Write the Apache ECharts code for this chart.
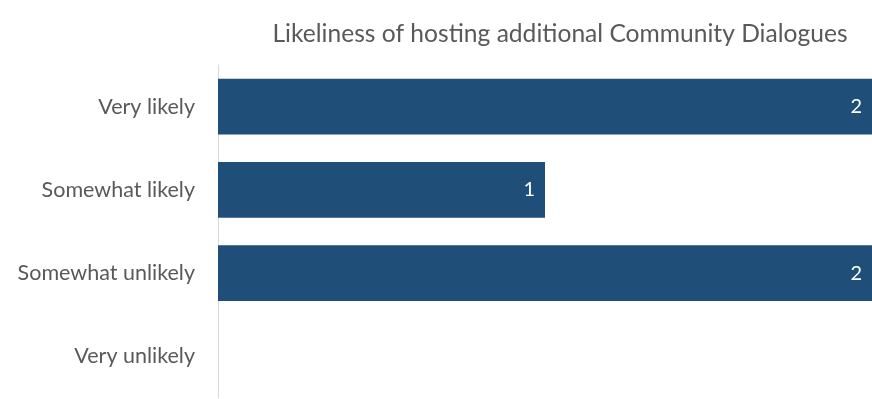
<!DOCTYPE html>
<html>
<head>
<meta charset="utf-8">
<script src="https://cdn.jsdelivr.net/npm/echarts@6/dist/echarts.min.js"></script>
<style>
  html, body { margin: 0; padding: 0; background: #ffffff; }
  #chart { width: 872px; height: 399px; }
</style>
</head>
<body>
<div id="chart"></div>
<script>
// Survey responses: how likely respondents are to host more Community Dialogues
const chartTitle = 'Likeliness of hosting additional Community Dialogues';
const categories = ['Very likely', 'Somewhat likely', 'Somewhat unlikely', 'Very unlikely'];
const responseCounts = [2, 1, 2, 0];

const textFont = 'Lato, "Open Sans", sans-serif';
const chart = echarts.init(document.getElementById('chart'), null, { renderer: 'canvas' });

chart.setOption({
  animation: false,
  backgroundColor: '#ffffff',
  title: {
    text: chartTitle,
    left: 555,
    top: 17,
    textAlign: 'center',
    textStyle: { color: '#595959', fontSize: 24.6, fontWeight: 'normal', fontFamily: textFont }
  },
  grid: { left: 218, right: 0, top: 65, bottom: 1, containLabel: false },
  xAxis: {
    type: 'value',
    min: 0,
    max: 2,
    show: false
  },
  yAxis: {
    type: 'category',
    inverse: true,
    data: categories,
    axisLine: { show: true, lineStyle: { color: '#d9d9d9', width: 1 } },
    axisTick: { show: false },
    axisLabel: {
      color: '#595959',
      fontSize: 21.5,
      fontFamily: textFont,
      margin: 23
    },
    splitLine: { show: false }
  },
  series: [{
    type: 'bar',
    data: responseCounts,
    barWidth: '67%',
    itemStyle: { color: '#1f4e79' },
    label: {
      show: true,
      position: 'insideRight',
      distance: 10,
      color: '#ffffff',
      fontSize: 20,
      fontFamily: textFont,
      formatter: p => (p.value > 0 ? p.value : '')
    }
  }]
});
</script>
</body>
</html>
